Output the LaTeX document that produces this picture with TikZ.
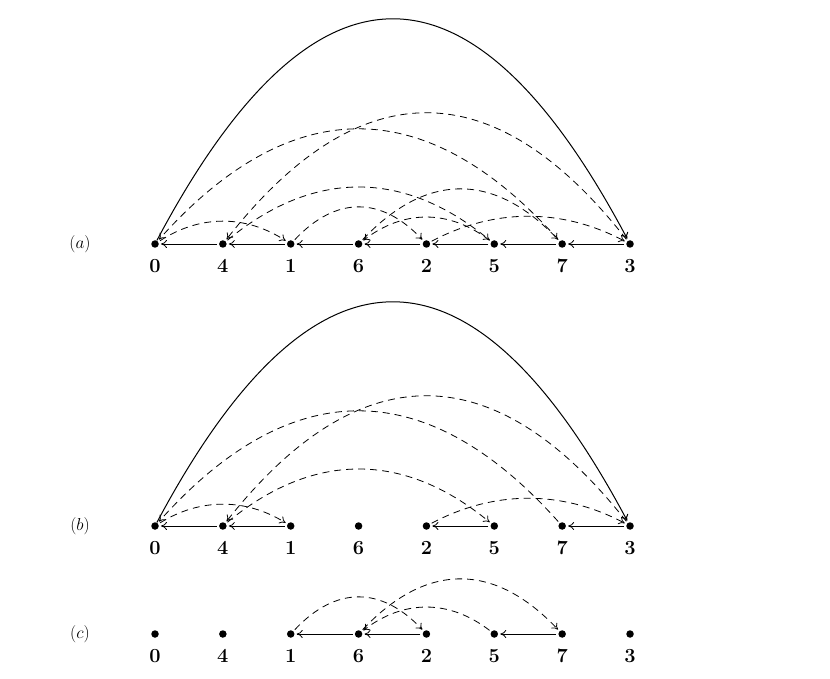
\documentclass[tikz,border=0pt]{standalone}
\usetikzlibrary{arrows.meta}
\newcommand{\myarc}[5]{\draw[#1] (#2) .. controls +({(#4)/3},{-4*(#5)/3}) and +({-(#4)/3},{-4*(#5)/3}) .. (#3);}
\begin{document}
\begin{tikzpicture}[x=1pt,y=-1pt,
  dot/.style={circle,fill=black,inner sep=0pt,minimum size=7.5pt},
  lab/.style={font=\fontsize{20}{22}\selectfont\bfseries},
  rowlab/.style={font=\fontsize{19}{22}\selectfont},
  tip/.style={-{Computer Modern Rightarrow[length=6pt,width=8pt]}},
  link/.style={tip,line width=0.8pt,shorten >=2pt,shorten <=2pt},
  solidarc/.style={tip,line width=1pt,shorten >=2pt},
  dasharc/.style={tip,line width=0.8pt,dash pattern=on 7pt off 5pt,shorten >=2pt,shorten <=2pt}]
\useasboundingbox (0,0) rectangle (830,679);
\foreach \r/\y in {a/244,b/526,c/634} {
  \foreach \n [count=\i from 0] in {0,4,1,6,2,5,7,3} {
    \node[dot] (\r\n) at ({155+67.86*\i},\y) {};
    \node[lab] (\r\n l) at ({155+67.86*\i},\y+22) {\n};
  }
}
\node[rowlab] (la) at (80,244) {$(a)$};
\node[rowlab] (lb) at (80,526) {$(b)$};
\node[rowlab] (lc) at (80,634) {$(c)$};
% horizontal links
\foreach \s/\t in {4/0,1/4,6/1,2/6,5/2,7/5,3/7} {\draw[link] (a\s) -- (a\t);}
\foreach \s/\t in {4/0,1/4,5/2,3/7} {\draw[link] (b\s) -- (b\t);}
\foreach \s/\t in {6/1,2/6,7/5} {\draw[link] (c\s) -- (c\t);}
% row a
\myarc{solidarc}{a0}{a3}{475}{224}
\myarc{dasharc}{a7}{a0}{-407.2}{114}
\myarc{dasharc}{a3}{a4}{-407.2}{130}
\myarc{dasharc}{a0}{a1}{135.7}{22}
\myarc{dasharc}{a1}{a2}{135.7}{36}
\myarc{dasharc}{a4}{a5}{271.4}{56}
\myarc{dasharc}{a2}{a3}{203.6}{27}
\myarc{dasharc}{a5}{a6}{-135.7}{26}
\myarc{dasharc}{a6}{a7}{203.6}{54}
% row b
\myarc{solidarc}{b0}{b3}{475}{223}
\myarc{dasharc}{b7}{b0}{-407.2}{114}
\myarc{dasharc}{b3}{b4}{-407.2}{129}
\myarc{dasharc}{b0}{b1}{135.7}{21}
\myarc{dasharc}{b4}{b5}{271.4}{56}
\myarc{dasharc}{b2}{b3}{203.6}{27}
% row c
\myarc{dasharc}{c1}{c2}{135.7}{36}
\myarc{dasharc}{c5}{c6}{-135.7}{26}
\myarc{dasharc}{c6}{c7}{203.6}{54}
\end{tikzpicture}
\end{document}
